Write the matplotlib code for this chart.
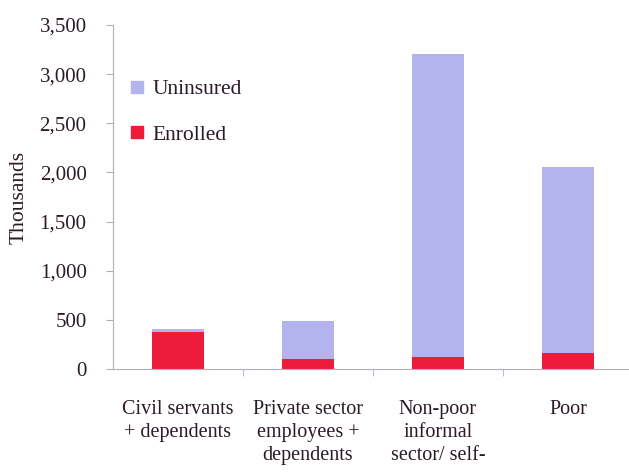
import matplotlib.pyplot as plt
from matplotlib.lines import Line2D
import numpy as np

# datos (miles)
categorias = ["Civil servants\n+ dependents",
              "Private sector\nemployees +\ndependents",
              "Non-poor\ninformal\nsector/ self-",
              "Poor"]
inscritos = [380, 100, 120, 160]
sin_seguro = [30, 390, 3090, 1895]

col_sin = "#b3b4ee"
col_ins = "#ec1c3a"
col_txt = "#2b1a27"
col_eje = "#b4aebb"

plt.rcParams['font.family'] = ['Liberation Serif', 'DejaVu Serif']

fig = plt.figure(figsize=(6.29, 4.72), dpi=100)
ax = fig.add_axes([113 / 629, 103 / 472, 516 / 629, 344 / 472])

x = np.arange(len(categorias))
ax.bar(x, inscritos, width=0.4, color=col_ins, zorder=2)
ax.bar(x, sin_seguro, width=0.4, bottom=inscritos, color=col_sin, zorder=2)

ax.set_xlim(-0.5, 3.47)
ax.set_ylim(0, 3500)
ax.set_yticks(np.arange(0, 3501, 500))
ax.set_yticklabels([f"{v:,}" for v in range(0, 3501, 500)])

ax.set_xticks(x)
ax.set_xticklabels(categorias, linespacing=1.3)
ax.set_xticks([0.5, 1.5, 2.5], minor=True)
ax.tick_params(axis='x', which='major', length=0, pad=22, labelsize=14.5, colors=col_txt)
ax.tick_params(axis='x', which='minor', length=5, color=col_eje, direction='out')
ax.tick_params(axis='y', length=5, pad=14, labelsize=15, colors=col_txt, color=col_eje)
for lbl in ax.get_xticklabels():
    lbl.set_verticalalignment('top')

for s in ['top', 'right']:
    ax.spines[s].set_visible(False)
for s in ['left', 'bottom']:
    ax.spines[s].set_color(col_eje)
    ax.spines[s].set_linewidth(0.8)

ax.set_ylabel("Thousands", fontsize=15.5, color=col_txt, labelpad=8)

handles = [Line2D([], [], marker='s', linestyle='', color=col_sin, markersize=9, label="Uninsured"),
           Line2D([], [], marker='s', linestyle='', color=col_ins, markersize=9, label="Enrolled")]
fig.legend(handles=handles, loc='upper left', bbox_to_anchor=(131 / 629, 1 - 79 / 472),
           frameon=False, fontsize=15.5, labelcolor=col_txt, handlelength=0.6,
           handletextpad=0.4, labelspacing=1.2, borderpad=0, borderaxespad=0)

plt.savefig("out.png", dpi=100, facecolor='white')
